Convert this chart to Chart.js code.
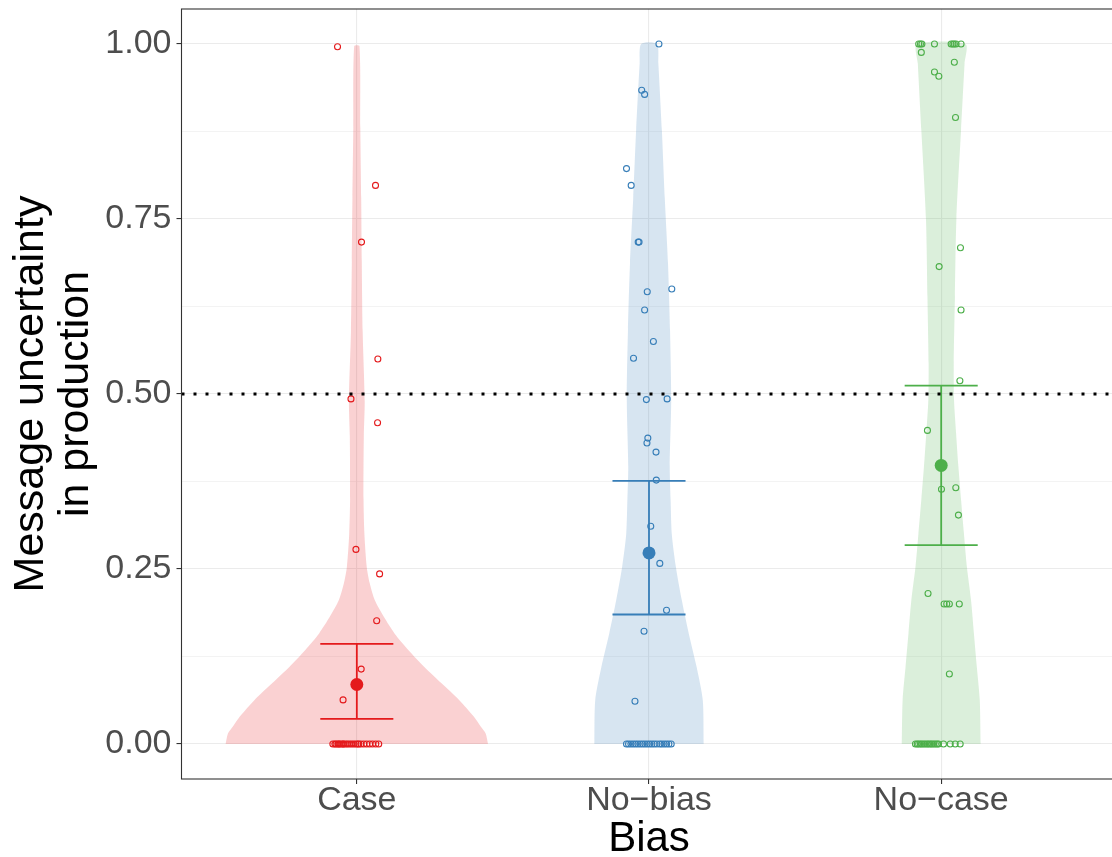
<!DOCTYPE html>
<html lang="en">
<head>
    <meta charset="UTF-8">
    <title>Message uncertainty in production by bias</title>
    <style>
        html, body {
            margin: 0;
            padding: 0;
            background: #ffffff;
            overflow: hidden;
        }

        .chart-container {
            position: relative;
            width: 1123px; /* panel runs a little past the window, like the original */
            height: 857px;
        }
    </style>
    <script src="https://cdn.jsdelivr.net/npm/chart.js"></script>
</head>
<body>

    <div class="chart-container">
        <canvas id="violinChart"></canvas>
    </div>

    <script>
        // Categories and axis ticks
        const categories = ['Case', 'No\u2212bias', 'No\u2212case'];
        const yTicks = [0, 0.25, 0.5, 0.75, 1];
        const yMinorTicks = [0.125, 0.375, 0.625, 0.875];
        const threshold = 0.5;

        // Mean and error bar per group
        const means = [0.085, 0.273, 0.398];
        const lower = [0.036, 0.185, 0.284];
        const upper = [0.143, 0.376, 0.512];

        // Violin outlines: heights and half widths (in category units)
        const caseViolinY = [0, 0.015, 0.025, 0.039, 0.063, 0.087, 0.11, 0.134, 0.158, 0.182, 0.206, 0.23, 0.253, 0.30, 0.35, 0.44, 0.49, 0.59, 0.69, 0.78, 0.88, 0.997];
        const caseViolinW = [0.449, 0.441, 0.424, 0.401, 0.350, 0.289, 0.231, 0.177, 0.129, 0.092, 0.061, 0.044, 0.034, 0.026, 0.023, 0.024, 0.027, 0.020, 0.017, 0.015, 0.012, 0.009];
        const noBiasViolinY = [0, 0.063, 0.11, 0.158, 0.206, 0.253, 0.30, 0.349, 0.396, 0.491, 0.591, 0.687, 0.78, 0.877, 0.972, 1.0];
        const noBiasViolinW = [0.187, 0.184, 0.163, 0.136, 0.112, 0.092, 0.078, 0.074, 0.071, 0.076, 0.072, 0.065, 0.054, 0.044, 0.032, 0.027];
        const noCaseViolinY = [0, 0.063, 0.11, 0.158, 0.206, 0.253, 0.30, 0.349, 0.396, 0.444, 0.491, 0.544, 0.639, 0.749, 0.877, 0.972, 1.0];
        const noCaseViolinW = [0.135, 0.132, 0.122, 0.112, 0.102, 0.088, 0.078, 0.068, 0.059, 0.051, 0.044, 0.043, 0.047, 0.052, 0.068, 0.080, 0.083];

        // Individual responses (value + horizontal jitter)
        const caseY = [0.996, 0.798, 0.717, 0.550, 0.493, 0.459, 0.278, 0.243, 0.176, 0.107, 0.063,
            0, 0, 0, 0, 0, 0, 0, 0, 0, 0, 0, 0, 0, 0, 0, 0, 0, 0, 0, 0, 0, 0, 0, 0];
        const caseJit = [-0.066, 0.064, 0.016, 0.072, -0.020, 0.071, -0.003, 0.078, 0.068, 0.015, -0.047,
            -0.082, -0.075, -0.071, -0.065, -0.061, -0.058, -0.051, -0.047, -0.044, -0.037, -0.031, -0.024,
            -0.017, -0.010, -0.003, 0.003, 0.007, 0.014, 0.024, 0.034, 0.044, 0.054, 0.065, 0.075];

        const noBiasY = [1.000, 0.934, 0.928, 0.822, 0.798, 0.717, 0.717, 0.650, 0.646, 0.620, 0.575, 0.551,
            0.492, 0.493, 0.437, 0.430, 0.417, 0.377, 0.311, 0.258, 0.191, 0.161, 0.061,
            0, 0, 0, 0, 0, 0, 0, 0, 0, 0, 0, 0, 0, 0, 0, 0, 0, 0, 0, 0];
        const noBiasJit = [0.034, -0.025, -0.015, -0.077, -0.061, -0.037, -0.034, 0.078, -0.006, -0.015, 0.015, -0.053,
            -0.009, 0.062, -0.004, -0.007, 0.024, 0.025, 0.006, 0.037, 0.060, -0.017, -0.048,
            -0.077, -0.070, -0.062, -0.054, -0.046, -0.038, -0.030, -0.022, -0.014, -0.006,
            0.002, 0.010, 0.018, 0.027, 0.037, 0.044, 0.052, 0.060, 0.068, 0.076];

        const noCaseY = [1, 1, 1, 1, 1, 1, 1, 1, 1, 0.988, 0.974, 0.960, 0.954, 0.895, 0.709, 0.682, 0.620, 0.519,
            0.448, 0.364, 0.366, 0.327, 0.215, 0.2, 0.2, 0.2, 0.2, 0.100,
            0, 0, 0, 0, 0, 0, 0, 0, 0, 0, 0, 0, 0, 0, 0, 0, 0, 0, 0];
        const noCaseJit = [-0.077, -0.071, -0.066, -0.023, 0.034, 0.040, 0.045, 0.051, 0.068, -0.068, 0.045, -0.023, -0.008, 0.049, 0.066, -0.007, 0.068, 0.064,
            -0.047, 0.001, 0.050, 0.059, -0.045, 0.010, 0.019, 0.028, 0.062, 0.028,
            -0.088, -0.082, -0.077, -0.071, -0.066, -0.060, -0.054, -0.048, -0.043, -0.037,
            -0.032, -0.026, -0.020, -0.014, -0.009, 0.008, 0.031, 0.048, 0.065];

        const colors = ['#E41A1C', '#377EB8', '#4DAF4A'];
        const violinFills = ['rgba(228, 26, 28, 0.2)', 'rgba(55, 126, 184, 0.2)', 'rgba(77, 175, 74, 0.2)'];
        const capHalf = 0.125;

        const violins = [[caseViolinY, caseViolinW], [noBiasViolinY, noBiasViolinW], [noCaseViolinY, noCaseViolinW]];
        const responses = [[caseY, caseJit], [noBiasY, noBiasJit], [noCaseY, noCaseJit]];

        // Outline: up the left side, down the right side
        function violinOutline(ys, ws, g) {
            const c = g + 1;
            const left = ys.map((y, i) => ({ x: c - ws[i], y: y }));
            const right = ys.map((y, i) => ({ x: c + ws[i], y: y })).reverse();
            return left.concat(right);
        }

        function errorBar(g) {
            const c = g + 1;
            return [
                { x: c, y: lower[g] }, { x: c, y: upper[g] }, { x: c, y: null },
                { x: c - capHalf, y: upper[g] }, { x: c + capHalf, y: upper[g] }, { x: c, y: null },
                { x: c - capHalf, y: lower[g] }, { x: c + capHalf, y: lower[g] }
            ];
        }

        const datasets = [];

        // Dotted reference line (drawn on top)
        datasets.push({
            data: [{ x: 0.4, y: threshold }, { x: 3.6, y: threshold }],
            showLine: true,
            borderColor: '#000000',
            borderWidth: 3,
            borderDash: [3, 9],
            pointRadius: 0,
            order: 0
        });

        categories.forEach((cat, g) => {
            datasets.push({
                data: [{ x: g + 1, y: means[g] }],
                pointRadius: 6.5,
                pointBackgroundColor: colors[g],
                pointBorderColor: colors[g],
                pointBorderWidth: 0,
                order: 1
            });
            datasets.push({
                data: errorBar(g),
                showLine: true,
                spanGaps: false,
                borderColor: colors[g],
                borderWidth: 1.8,
                pointRadius: 0,
                order: 2
            });
            datasets.push({
                data: responses[g][0].map((y, i) => ({ x: g + 1 + responses[g][1][i], y: y })),
                pointRadius: 3,
                pointBorderWidth: 1.1,
                pointBorderColor: colors[g],
                pointBackgroundColor: 'rgba(0, 0, 0, 0)',
                order: 3
            });
            datasets.push({
                data: violinOutline(violins[g][0], violins[g][1], g),
                showLine: true,
                fill: 'shape',
                tension: 0.25,
                backgroundColor: violinFills[g],
                borderWidth: 0,
                borderColor: 'rgba(0, 0, 0, 0)',
                pointRadius: 0,
                order: 4
            });
        });

        // Panel border (ggplot theme_bw)
        const panelBorder = {
            id: 'panelBorder',
            afterDatasetsDraw(chart) {
                const { ctx, chartArea: a } = chart;
                ctx.save();
                ctx.strokeStyle = '#333333';
                ctx.lineWidth = 1.1;
                ctx.strokeRect(a.left, a.top, a.right - a.left, a.bottom - a.top);
                ctx.restore();
            }
        };

        Chart.defaults.font.family = '"Liberation Sans", Arial, sans-serif';

        const isMajor = v => yTicks.some(t => Math.abs(t - v) < 1e-9);

        const ctx = document.getElementById('violinChart').getContext('2d');
        const violinChart = new Chart(ctx, {
            type: 'scatter',
            data: { datasets: datasets },
            plugins: [panelBorder],
            options: {
                responsive: true,
                maintainAspectRatio: false,
                animation: false,
                events: [],
                layout: { padding: { top: 9, left: 0, right: 0, bottom: 0 } },
                plugins: {
                    legend: { display: false },
                    tooltip: { enabled: false }
                },
                scales: {
                    x: {
                        type: 'linear',
                        min: 0.4,
                        max: 3.6,
                        afterFit: s => {
                            s.height = 78;
                            s.paddingLeft = 0;
                            s.paddingRight = 0;
                        },
                        afterBuildTicks: s => { s.ticks = categories.map((c, i) => ({ value: i + 1 })); },
                        ticks: {
                            callback: v => categories[v - 1],
                            font: { size: 34, lineHeight: 1 },
                            color: '#4D4D4D',
                            padding: 0,
                            autoSkip: false,
                            maxRotation: 0
                        },
                        grid: {
                            color: '#EBEBEB',
                            lineWidth: 1.1,
                            tickLength: 5,
                            tickColor: '#333333',
                            tickWidth: 1.1
                        },
                        border: { display: false },
                        title: {
                            display: true,
                            text: 'Bias',
                            color: '#000000',
                            font: { size: 42, lineHeight: 0.86 },
                            padding: 0
                        }
                    },
                    y: {
                        type: 'linear',
                        min: -0.05,
                        max: 1.05,
                        afterFit: s => {
                            s.width = 181.5;
                            s.paddingTop = 0;
                            s.paddingBottom = 0;
                        },
                        afterBuildTicks: s => {
                            s.ticks = yTicks.concat(yMinorTicks).sort((a, b) => a - b).map(v => ({ value: v }));
                        },
                        ticks: {
                            callback: v => isMajor(v) ? v.toFixed(2) : '',
                            font: { size: 34 },
                            color: '#4D4D4D',
                            padding: 5,
                            autoSkip: false
                        },
                        grid: {
                            color: '#EBEBEB',
                            lineWidth: c => isMajor(c.tick.value) ? 1.1 : 0.6,
                            tickLength: 5,
                            tickColor: c => isMajor(c.tick.value) ? '#333333' : 'rgba(0, 0, 0, 0)',
                            tickWidth: 1.1
                        },
                        border: { display: false },
                        title: {
                            display: true,
                            text: ['Message uncertainty', 'in production'],
                            color: '#000000',
                            font: { size: 43, lineHeight: 45 / 43 },
                            padding: { top: 8.5, bottom: 0 }
                        }
                    }
                }
            }
        });
    </script>
</body>
</html>
